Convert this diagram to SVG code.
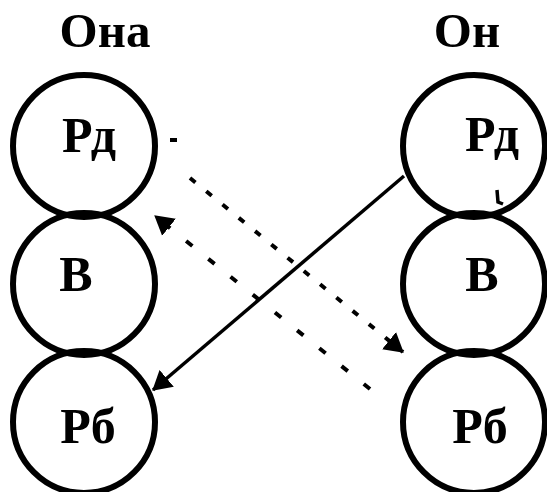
<svg xmlns="http://www.w3.org/2000/svg" width="547" height="492" viewBox="0 0 547 492">
  <defs>
    <style>
      .node { fill: none; stroke: #000; stroke-width: 6; }
      .lbl { font-family: "Liberation Serif", "Times New Roman", serif; font-weight: bold; fill: #000; text-anchor: middle; }
      .hdr { font-size: 49px; }
      .big { font-size: 50px; }
      .solid { fill: none; stroke: #000; stroke-width: 3.5; }
      .dash1 { fill: none; stroke: #000; stroke-width: 4; stroke-dasharray: 7 14; }
      .dash2 { fill: none; stroke: #000; stroke-width: 4; stroke-dasharray: 8 20.5; }
    </style>
    <marker id="arrow" markerUnits="userSpaceOnUse" markerWidth="19" markerHeight="24" viewBox="0 0 19 24" refX="18" refY="12" orient="auto">
      <path d="M0,1 L19,12 L0,23 z" fill="#000"/>
    </marker>
  </defs>
  <rect width="547" height="492" fill="#fff"/>

  <text class="lbl hdr" x="105" y="47">Она</text>
  <text class="lbl hdr" x="467" y="47">Он</text>

  <g id="she-rd">
    <circle class="node" cx="84" cy="146" r="71"/>
    <text class="lbl big" x="89" y="152">Рд</text>
  </g>
  <g id="she-v">
    <circle class="node" cx="84" cy="284" r="71"/>
    <text class="lbl big" x="76" y="291">В</text>
  </g>
  <g id="she-rb">
    <circle class="node" cx="84" cy="422" r="71"/>
    <text class="lbl big" x="88" y="443">Рб</text>
  </g>

  <g id="he-rd">
    <circle class="node" cx="474" cy="146" r="71"/>
    <text class="lbl big" x="492" y="151">Рд</text>
  </g>
  <g id="he-v">
    <circle class="node" cx="474" cy="284" r="71"/>
    <text class="lbl big" x="482" y="291">В</text>
  </g>
  <g id="he-rb">
    <circle class="node" cx="474" cy="422" r="71"/>
    <text class="lbl big" x="480" y="443">Рб</text>
  </g>

  <g id="connectors">
    <path class="solid" d="M404,176 L153,390" marker-end="url(#arrow)"/>
    <path class="dash1" d="M170,140 h8 M190,178 L403,352" marker-end="url(#arrow)"/>
    <path class="dash2" d="M370,389 L155,216" marker-end="url(#arrow)"/>
    <path class="solid" d="M497,190 L498,202 L503,204"/>
  </g>
</svg>
